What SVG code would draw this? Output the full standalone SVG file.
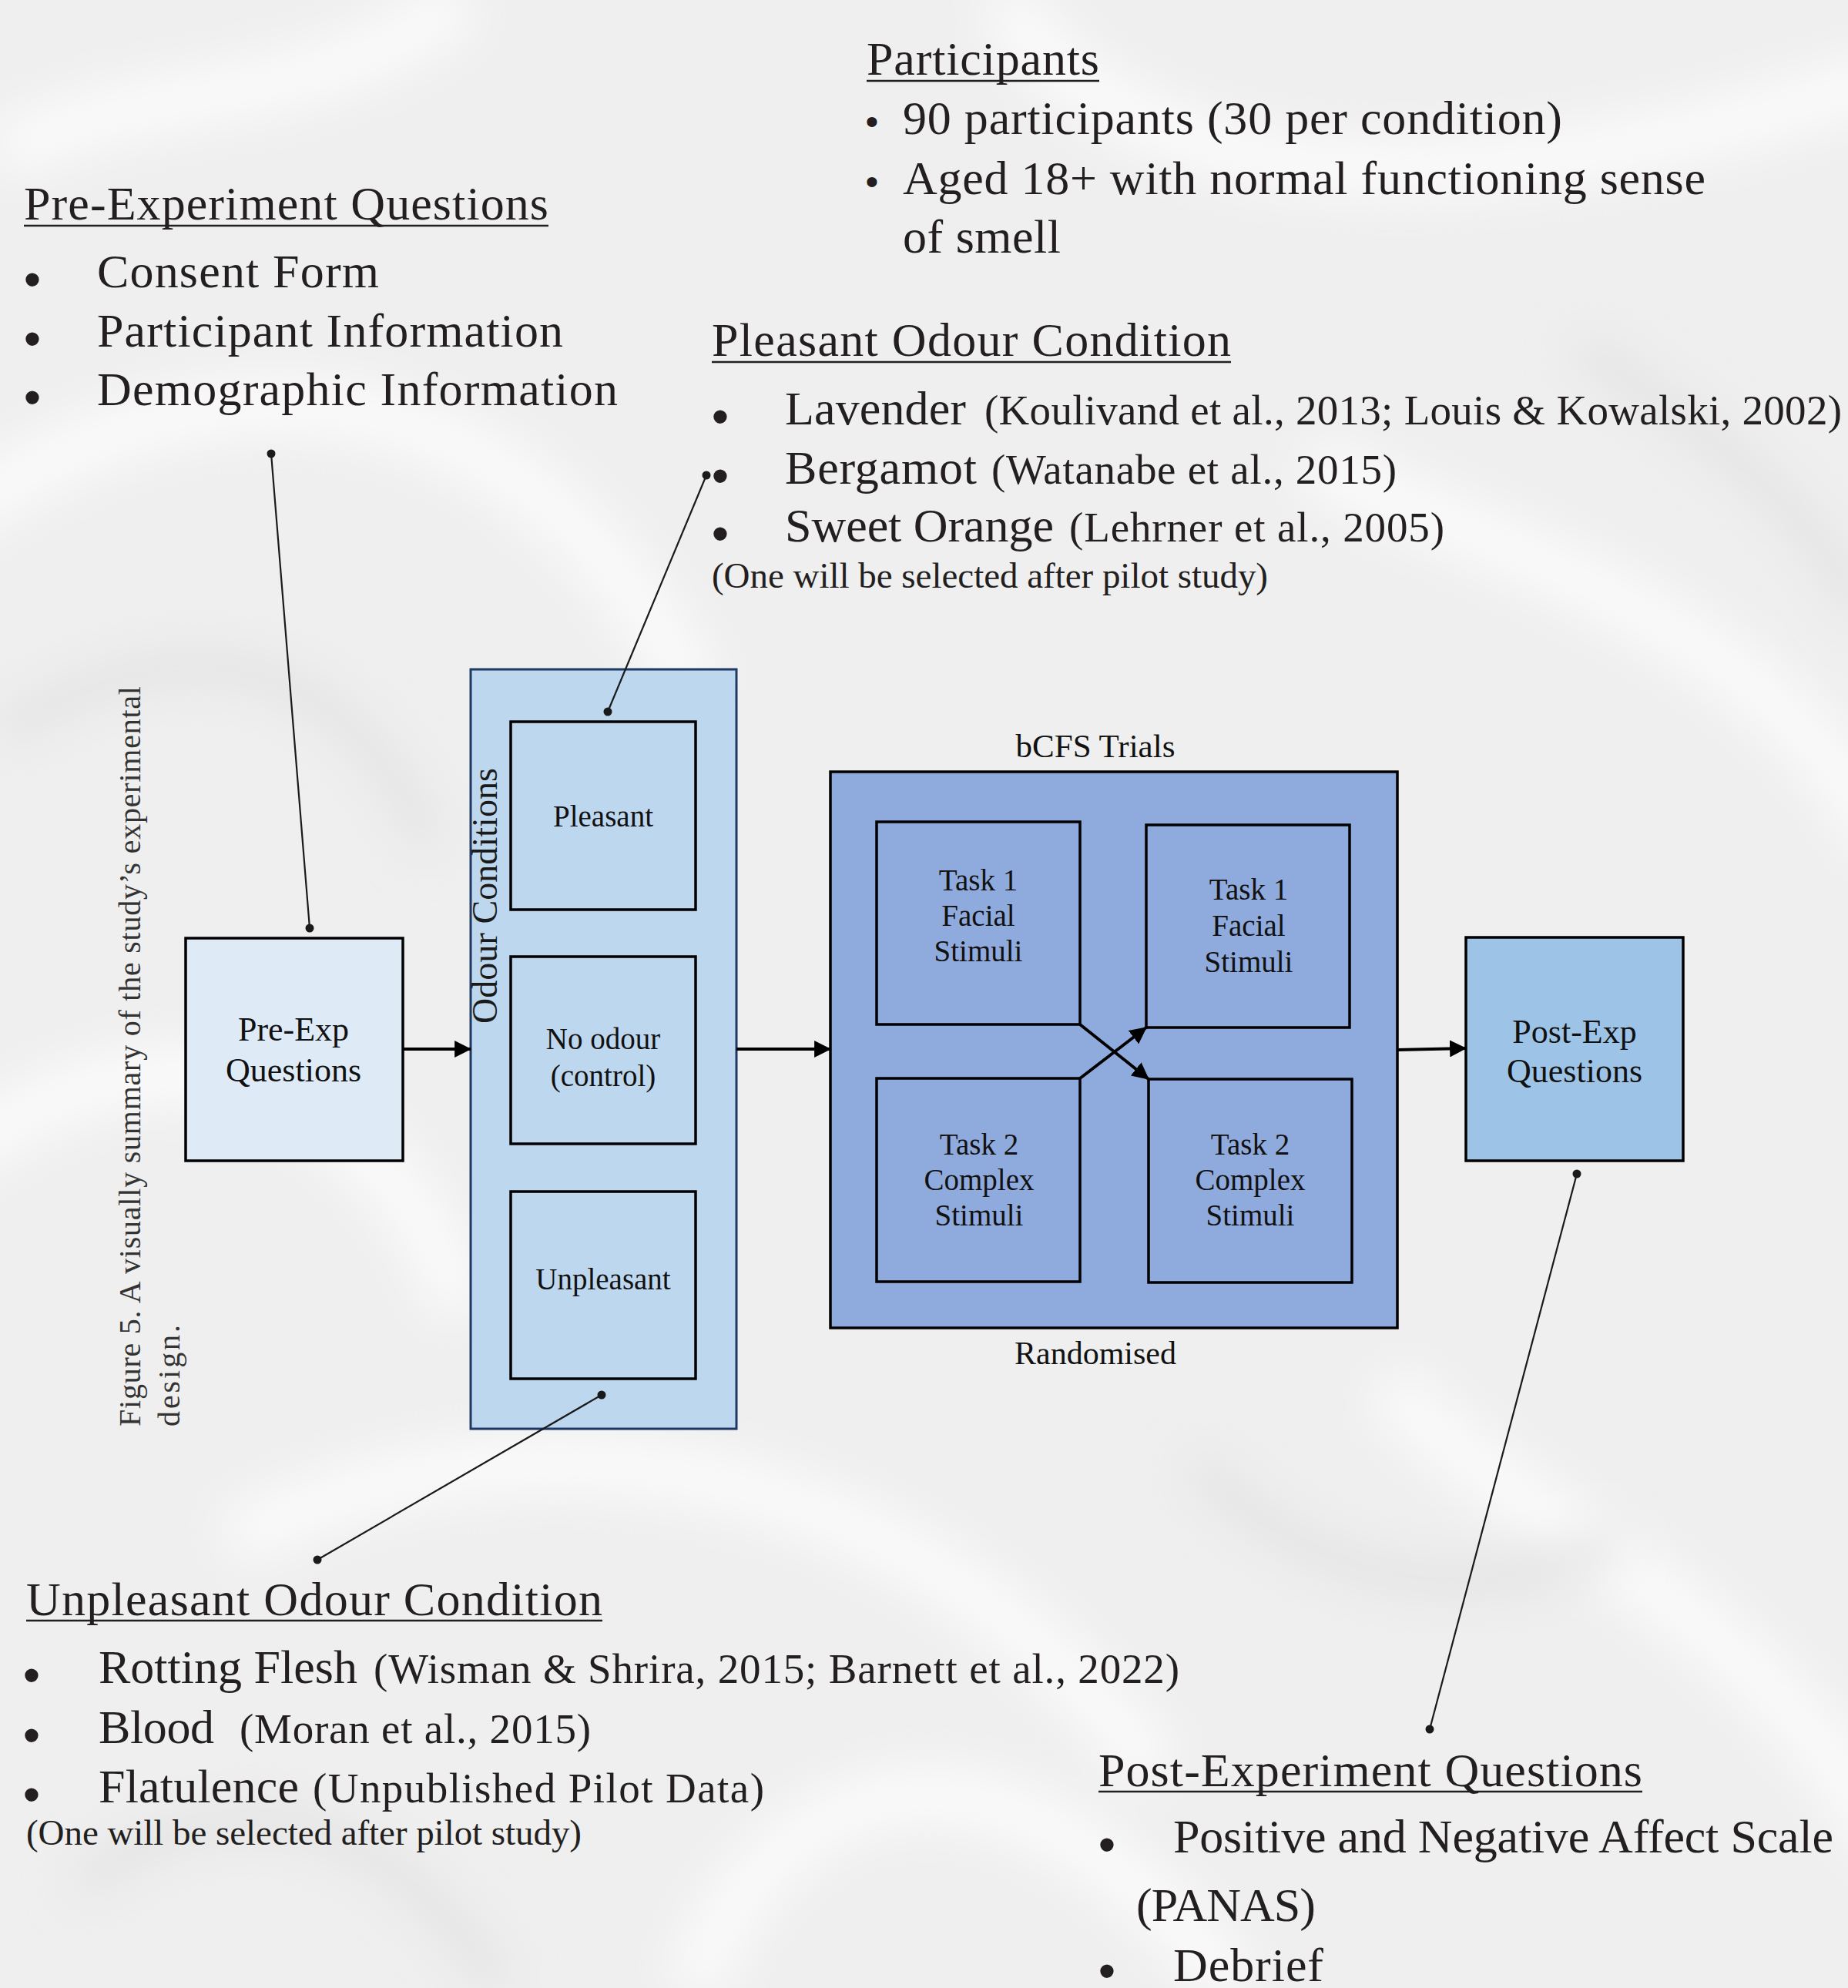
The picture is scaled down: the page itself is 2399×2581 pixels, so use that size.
<svg xmlns="http://www.w3.org/2000/svg" width="2399" height="2581" viewBox="0 0 2399 2581">
<style>
text{font-family:"Liberation Serif","Times New Roman",serif;fill:#231f20}
.h{font-size:62px}
.m{font-size:62px}
.c{font-size:55px}
.n{font-size:47px}
.b{font-family:"Liberation Sans",Arial,sans-serif;font-size:64px;text-anchor:middle}
.bs{font-family:"Liberation Sans",Arial,sans-serif;font-size:48px;text-anchor:middle}
.lbl{font-size:39px;text-anchor:middle;fill:#111}
.lbl2{font-size:44px;text-anchor:middle;fill:#111}
.cap{font-size:40px;fill:#333}
.ul{stroke:#231f20;stroke-width:2.5}
.box{stroke:#000;stroke-width:3.5}
.lead{stroke:#1a1a1a;stroke-width:2.2;fill:none}
.dot{fill:#1a1a1a}
.arr{stroke:#000;stroke-width:4;fill:none;marker-end:url(#ah)}
</style>
<defs>
<marker id="ah" markerUnits="userSpaceOnUse" markerWidth="22" markerHeight="22" viewBox="0 0 20 20" refX="19" refY="10" orient="auto">
<path d="M0,0 L20,10 L0,20 z" fill="#000"/>
</marker>
<filter id="blur" x="-20%" y="-20%" width="140%" height="140%"><feGaussianBlur stdDeviation="30"/></filter>
</defs>
<g id="background">
<rect width="2399" height="2581" fill="#efefef"/>
<g filter="url(#blur)" fill="none" stroke="#fbfbfb" stroke-width="70">
<path d="M-100,700 C300,400 700,500 900,900"/>
<path d="M1300,0 C1500,300 2000,250 2450,100"/>
<path d="M1700,600 C1900,700 2300,800 2450,1100"/>
<path d="M-50,1500 C200,1300 500,1400 600,1700"/>
<path d="M300,2000 C700,1800 1200,1900 1500,2300"/>
<path d="M1800,1800 C2000,2000 2300,2100 2450,2400"/>
<path d="M900,2581 C1000,2300 1300,2200 1600,2581"/>
<path d="M0,200 C200,100 400,150 600,0"/>
</g>
<g filter="url(#blur)" fill="none" stroke="#e2e2e2" stroke-width="40">
<path d="M0,950 C250,800 450,850 560,1100"/>
<path d="M2050,450 C2200,550 2350,650 2420,800"/>
<path d="M1550,1900 C1700,2050 1900,2100 2100,2000"/>
<path d="M100,2450 C300,2300 500,2350 650,2581"/>
</g>
</g>
<g id="caption">
<text class="cap" transform="translate(182,1852) rotate(-90)" textLength="961">Figure 5. A visually summary of the study’s experimental</text>
<text class="cap" transform="translate(233,1852) rotate(-90)" textLength="132">design.</text>
</g>
<g id="participants-note">
<text class="h" x="1125" y="97" textLength="302">Participants</text>
<line class="ul" x1="1125" y1="105" x2="1427" y2="105"/>
<text class="bs" x="1132" y="174">•</text>
<text class="m" x="1172" y="174" textLength="856">90 participants (30 per condition)</text>
<text class="bs" x="1132" y="252">•</text>
<text class="m" x="1172" y="252" textLength="1042">Aged 18+ with normal functioning sense</text>
<text class="m" x="1172" y="328" textLength="205">of smell</text>
</g>
<g id="pre-experiment-note">
<text class="h" x="31" y="285" textLength="681">Pre-Experiment Questions</text>
<line class="ul" x1="31" y1="293" x2="712" y2="293"/>
<text class="b" x="42" y="385">•</text>
<text class="m" x="126" y="373" textLength="366">Consent Form</text>
<text class="b" x="42" y="462">•</text>
<text class="m" x="126" y="450" textLength="605">Participant Information</text>
<text class="b" x="42" y="538">•</text>
<text class="m" x="126" y="526" textLength="676">Demographic Information</text>
</g>
<g id="pleasant-note">
<text class="h" x="924" y="462" textLength="674">Pleasant Odour Condition</text>
<line class="ul" x1="924" y1="470" x2="1598" y2="470"/>
<text class="b" x="935" y="563">•</text>
<text class="m" x="1019" y="551" textLength="235">Lavender</text>
<text class="c" x="1278" y="551" textLength="1113">(Koulivand et al., 2013; Louis &amp; Kowalski, 2002)</text>
<text class="b" x="935" y="640">•</text>
<text class="m" x="1019" y="628" textLength="249">Bergamot</text>
<text class="c" x="1287" y="628" textLength="526">(Watanabe et al., 2015)</text>
<text class="b" x="935" y="715">•</text>
<text class="m" x="1019" y="703" textLength="349">Sweet Orange</text>
<text class="c" x="1388" y="703" textLength="487">(Lehrner et al., 2005)</text>
<text class="n" x="924" y="763" textLength="722">(One will be selected after pilot study)</text>
</g>
<g id="unpleasant-note">
<text class="h" x="34" y="2097" textLength="748">Unpleasant Odour Condition</text>
<line class="ul" x1="34" y1="2104" x2="782" y2="2104"/>
<text class="b" x="41" y="2197">•</text>
<text class="m" x="128" y="2185" textLength="336">Rotting Flesh</text>
<text class="c" x="485" y="2185" textLength="1046">(Wisman &amp; Shrira, 2015; Barnett et al., 2022)</text>
<text class="b" x="41" y="2275">•</text>
<text class="m" x="128" y="2263" textLength="150">Blood</text>
<text class="c" x="311" y="2263" textLength="456">(Moran et al., 2015)</text>
<text class="b" x="41" y="2352">•</text>
<text class="m" x="128" y="2340" textLength="260">Flatulence</text>
<text class="c" x="406" y="2340" textLength="586">(Unpublished Pilot Data)</text>
<text class="n" x="34" y="2395" textLength="721">(One will be selected after pilot study)</text>
</g>
<g id="post-experiment-note">
<text class="h" x="1426" y="2319" textLength="706">Post-Experiment Questions</text>
<line class="ul" x1="1426" y1="2326" x2="2132" y2="2326"/>
<text class="b" x="1437" y="2417">•</text>
<text class="m" x="1523" y="2405" textLength="857">Positive and Negative Affect Scale</text>
<text class="m" x="1475" y="2494" textLength="233">(PANAS)</text>
<text class="b" x="1437" y="2581">•</text>
<text class="m" x="1523" y="2572" textLength="195">Debrief</text>
</g>
<g id="pre-exp">
<rect class="box" x="241" y="1218" width="282" height="289" fill="#deebf7"/>
<text class="lbl2" x="381" y="1351">Pre-Exp</text>
<text class="lbl2" x="381" y="1404">Questions</text>
</g>
<g id="odour-conditions">
<rect x="611" y="869" width="345" height="986" fill="#bdd7ee" stroke="#1f3864" stroke-width="3"/>
<text transform="translate(645,1329) rotate(-90)" style="font-size:46px;fill:#1a1a1a" textLength="332">Odour Conditions</text>
</g>
<g id="pleasant">
<rect class="box" x="663" y="937" width="240" height="244" fill="#bdd7ee"/>
<text class="lbl" x="783" y="1073">Pleasant</text>
</g>
<g id="no-odour">
<rect class="box" x="663" y="1242" width="240" height="243" fill="#bdd7ee"/>
<text class="lbl" x="783" y="1362">No odour</text>
<text class="lbl" x="783" y="1410">(control)</text>
</g>
<g id="unpleasant">
<rect class="box" x="663" y="1547" width="240" height="243" fill="#bdd7ee"/>
<text class="lbl" x="783" y="1674">Unpleasant</text>
</g>
<g id="bcfs-trials">
<text class="lbl2" x="1422" y="983" style="font-size:43px">bCFS Trials</text>
<rect class="box" x="1078" y="1002" width="736" height="722" fill="#8faadc"/>
<text class="lbl2" x="1422" y="1771" style="font-size:42px">Randomised</text>
</g>
<g id="task1-facial-a">
<rect class="box" x="1138" y="1067" width="264" height="263" fill="#8faadc"/>
<text class="lbl" x="1270" y="1156">Task 1</text>
<text class="lbl" x="1270" y="1202">Facial</text>
<text class="lbl" x="1270" y="1248">Stimuli</text>
</g>
<g id="task1-facial-b">
<rect class="box" x="1488" y="1071" width="264" height="263" fill="#8faadc"/>
<text class="lbl" x="1621" y="1168">Task 1</text>
<text class="lbl" x="1621" y="1215">Facial</text>
<text class="lbl" x="1621" y="1262">Stimuli</text>
</g>
<g id="task2-complex-a">
<rect class="box" x="1138" y="1400" width="264" height="264" fill="#8faadc"/>
<text class="lbl" x="1271" y="1499">Task 2</text>
<text class="lbl" x="1271" y="1545">Complex</text>
<text class="lbl" x="1271" y="1591">Stimuli</text>
</g>
<g id="task2-complex-b">
<rect class="box" x="1491" y="1401" width="264" height="264" fill="#8faadc"/>
<text class="lbl" x="1623" y="1499">Task 2</text>
<text class="lbl" x="1623" y="1545">Complex</text>
<text class="lbl" x="1623" y="1591">Stimuli</text>
</g>
<g id="post-exp">
<rect class="box" x="1903" y="1217" width="282" height="290" fill="#9dc3e6"/>
<text class="lbl2" x="2044" y="1354">Post-Exp</text>
<text class="lbl2" x="2044" y="1405">Questions</text>
</g>
<g id="connectors">
<line class="arr" x1="523" y1="1362" x2="611" y2="1362"/>
<line class="arr" x1="956" y1="1362" x2="1078" y2="1362"/>
<line class="arr" x1="1814" y1="1363" x2="1903" y2="1361"/>
<line class="arr" x1="1402" y1="1330" x2="1491" y2="1401"/>
<line class="arr" x1="1402" y1="1400" x2="1488" y2="1334"/>
<line class="lead" x1="352" y1="589" x2="402" y2="1205"/>
<circle class="dot" cx="352" cy="589" r="5.5"/>
<circle class="dot" cx="402" cy="1205" r="5.5"/>
<line class="lead" x1="917" y1="617" x2="789" y2="924"/>
<circle class="dot" cx="917" cy="617" r="5.5"/>
<circle class="dot" cx="789" cy="924" r="5.5"/>
<line class="lead" x1="781" y1="1811" x2="412" y2="2025"/>
<circle class="dot" cx="781" cy="1811" r="5.5"/>
<circle class="dot" cx="412" cy="2025" r="5.5"/>
<line class="lead" x1="2047" y1="1524" x2="1856" y2="2245"/>
<circle class="dot" cx="2047" cy="1524" r="5.5"/>
<circle class="dot" cx="1856" cy="2245" r="5.5"/>
</g>
</svg>
